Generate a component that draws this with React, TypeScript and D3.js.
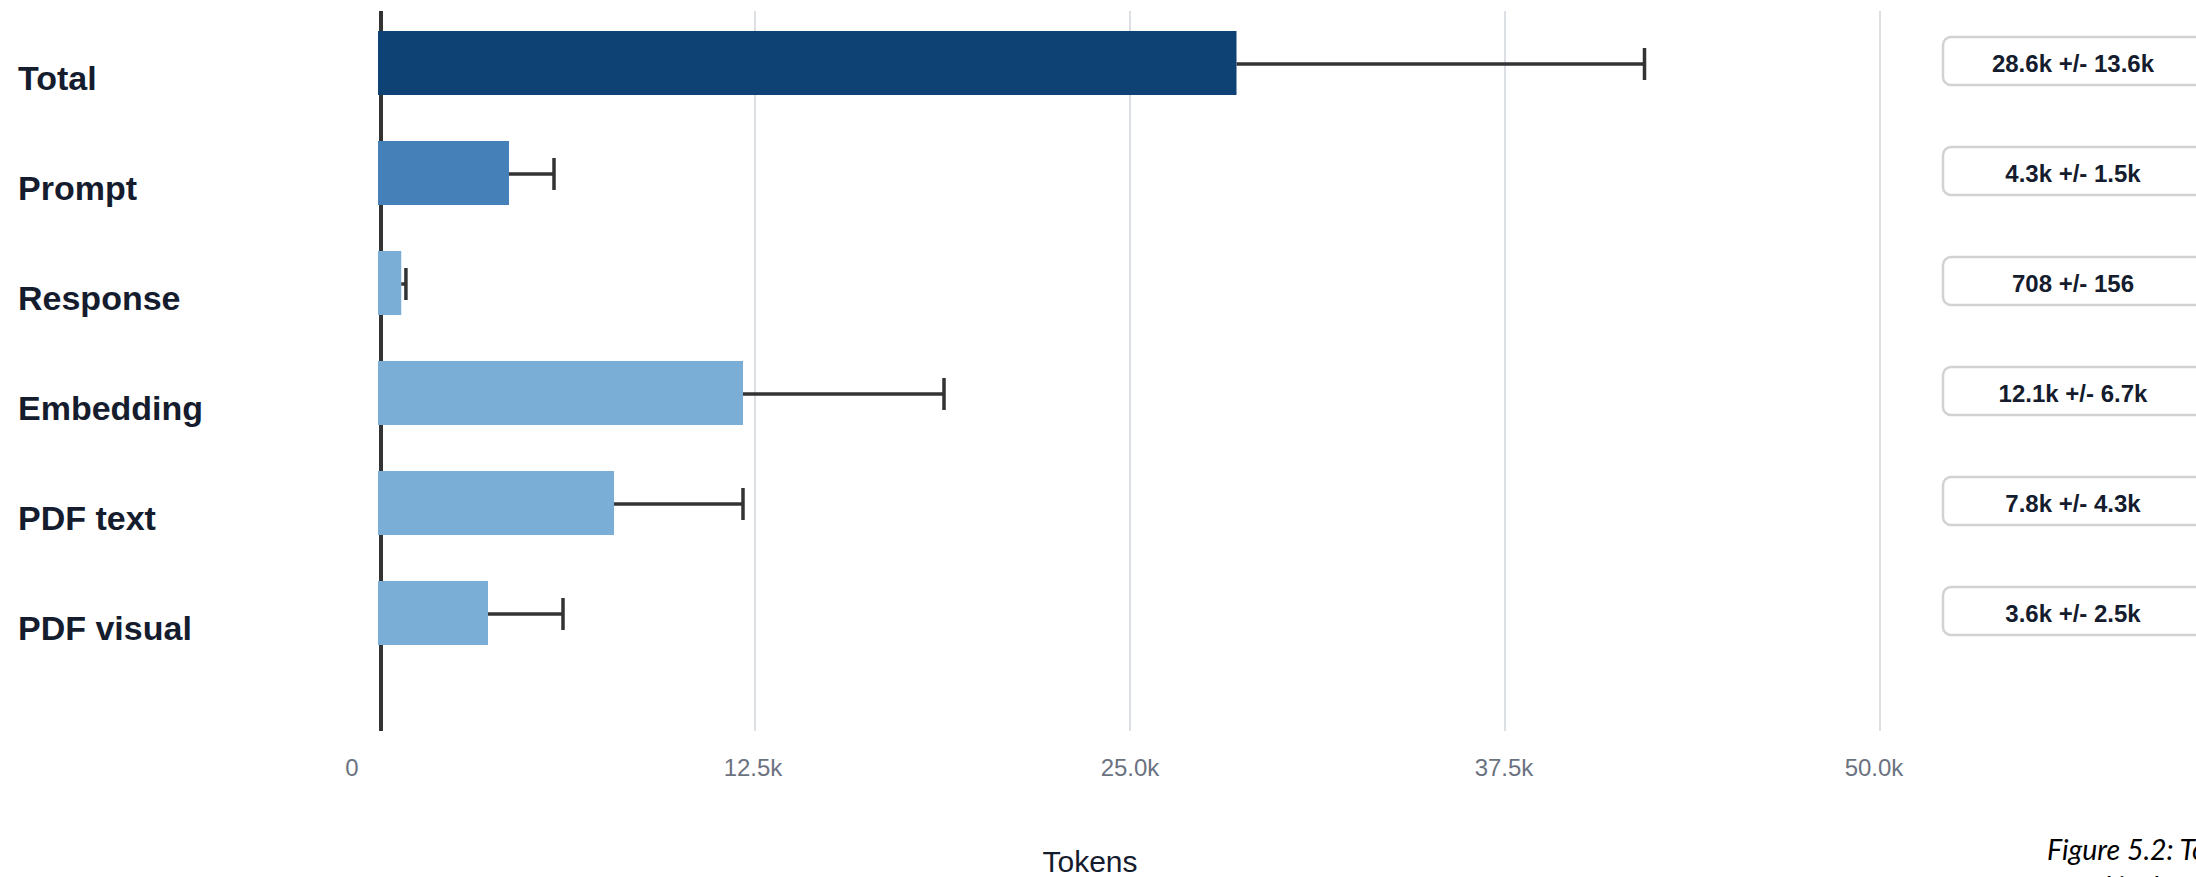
import React from "react";
import * as d3 from "d3";

const categories = ["Total", "Prompt", "Response", "Embedding", "PDF text", "PDF visual"];
const means = [28550, 4300, 708, 12100, 7800, 3600];
const sds = [13600, 1500, 156, 6700, 4300, 2500];
const valueLabels = ["28.6k +/- 13.6k", "4.3k +/- 1.5k", "708 +/- 156", "12.1k +/- 6.7k", "7.8k +/- 4.3k", "3.6k +/- 2.5k"];
const barColors = ["#0e4174", "#4580b9", "#7baed6", "#7baed6", "#7baed6", "#7baed6"];
const tickValues = [0, 12500, 25000, 37500, 50000];
const tickLabels = ["0", "12.5k", "25.0k", "37.5k", "50.0k"];
const tickLabelShift = [-28, -2, 0, -1, -6];

const W = 2196;
const H = 877;
const FONT = "'Liberation Sans', Arial, Helvetica, sans-serif";

export default function App() {
  const x = d3.scaleLinear().domain([0, 50000]).range([380, 1880]);
  const y = d3
    .scaleBand<string>()
    .domain(categories)
    .range([8, 668])
    .paddingInner(0.418)
    .paddingOuter(0.209);
  const bw = y.bandwidth();
  const gridTop = 11;
  const gridBottom = 731;

  return (
    <svg
      width={W}
      height={H}
      viewBox={`0 0 ${W} ${H}`}
      style={{ position: "absolute", left: 0, top: 0, background: "#fff" }}
    >
      <rect x={0} y={0} width={W} height={H} fill="#fff" />
      {/* gridlines */}
      {tickValues.slice(1).map((t) => (
        <line
          key={t}
          x1={x(t)}
          x2={x(t)}
          y1={gridTop}
          y2={gridBottom}
          stroke="#dcdfe4"
          strokeWidth={2}
        />
      ))}
      {/* axis line */}
      <line x1={x(0) + 1} x2={x(0) + 1} y1={gridTop} y2={gridBottom} stroke="#333" strokeWidth={4} />
      {/* bars */}
      {categories.map((c, i) => {
        const y0 = y(c)!;
        const cy = y0 + bw / 2;
        const xe = x(means[i] + sds[i]);
        return (
          <g key={c}>
            <rect x={x(0) - 2} y={y0} width={x(means[i]) - x(0) + 2} height={bw} fill={barColors[i]} />
            <line x1={x(means[i])} x2={xe} y1={cy + 1} y2={cy + 1} stroke="#333" strokeWidth={3.5} />
            <line x1={xe} x2={xe} y1={cy - 15} y2={cy + 17} stroke="#333" strokeWidth={3.5} />
          </g>
        );
      })}
      {/* category labels */}
      {categories.map((c) => (
        <text
          key={c}
          x={18}
          y={y(c)! + bw / 2 + 27}
          fontFamily={FONT}
          fontWeight="bold"
          fontSize={34}
          fill="#141c2e"
        >
          {c}
        </text>
      ))}
      {/* value boxes */}
      {categories.map((c, i) => {
        const cy = y(c)! + bw / 2;
        return (
          <g key={c}>
            <rect
              x={1943}
              y={cy - 26}
              width={260}
              height={48}
              rx={8}
              ry={8}
              fill="#fff"
              stroke="#d2d2d2"
              strokeWidth={2.5}
            />
            <text
              x={2073}
              y={cy + 9}
              textAnchor="middle"
              fontFamily={FONT}
              fontWeight="bold"
              fontSize={24}
              fill="#141c2e"
            >
              {valueLabels[i]}
            </text>
          </g>
        );
      })}
      {/* tick labels */}
      {tickValues.map((t, i) => (
        <text
          key={t}
          x={x(t) + tickLabelShift[i]}
          y={776}
          textAnchor="middle"
          fontFamily={FONT}
          fontSize={24}
          fill="#6b7280"
        >
          {tickLabels[i]}
        </text>
      ))}
      {/* axis title */}
      <text x={1090} y={872} textAnchor="middle" fontFamily={FONT} fontSize={30} fill="#141c2e">
        Tokens
      </text>
      {/* caption */}
      <text x={2047} y={860} fontFamily="Lato, 'Open Sans', sans-serif" fontStyle="italic" fontSize={28.5} fill="#000">
        Figure 5.2: Token usage
      </text>
      <text x={2066} y={897} fontFamily="Lato, 'Open Sans', sans-serif" fontStyle="italic" fontSize={28.5} fill="#000">
        and its breakdown
      </text>
    </svg>
  );
}
